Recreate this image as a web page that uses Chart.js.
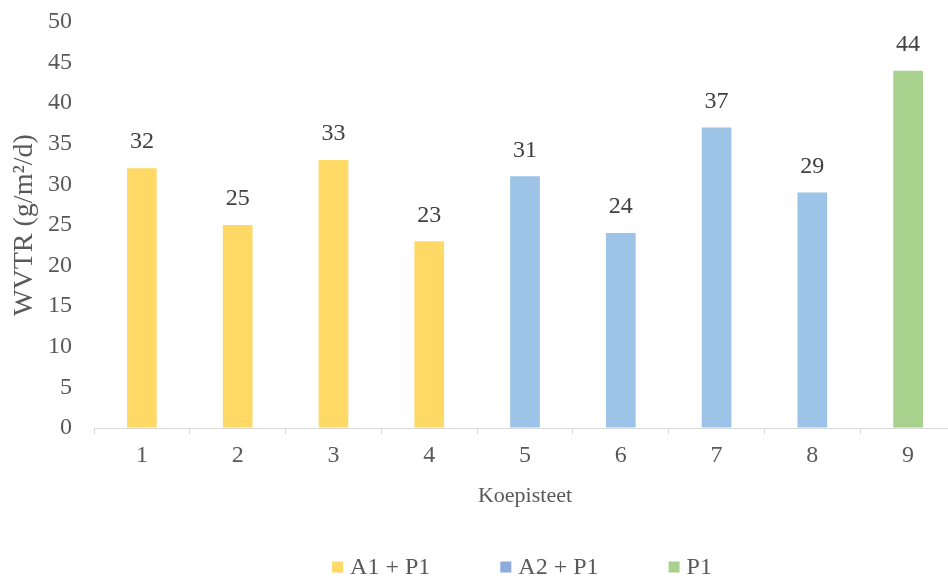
<!DOCTYPE html>
<html>
<head>
<meta charset="utf-8">
<script src="https://cdn.jsdelivr.net/npm/chart.js@4"></script>
<style>
  body { margin: 0; overflow: hidden; background: #fff; }
  #wrap { width: 960px; height: 578px; }
</style>
</head>
<body>
<div id="wrap"><canvas id="chart"></canvas></div>
<script>
'use strict';

// data
var categories = ['1', '2', '3', '4', '5', '6', '7', '8', '9'];
var values = [32, 25, 33, 23, 31, 24, 37, 29, 44];
var groups = [0, 0, 0, 0, 1, 1, 1, 1, 2];

// legend entries
var groupNames = ['A1 + P1', 'A2 + P1', 'P1'];
var barColors = ['#FFD966', '#9DC3E6', '#A9D18E'];
var legendColors = ['#FFD966', '#8FAADC', '#A9D18E'];

var yTitle = 'WVTR (g/m\u00B2/d)';
var xTitle = 'Koepisteet';

var fontFamily = '"Liberation Serif", "Times New Roman", serif';

var colors = [];
for (var i = 0; i < values.length; i++) {
  colors.push(barColors[groups[i]]);
}

// value labels above each bar
var valueLabels = {
  id: 'valueLabels',
  afterDatasetsDraw: function(chart) {
    var ctx = chart.ctx;
    var meta = chart.getDatasetMeta(0);
    ctx.save();
    ctx.font = '24px ' + fontFamily;
    ctx.fillStyle = '#404040';
    ctx.textAlign = 'center';
    ctx.textBaseline = 'middle';
    meta.data.forEach(function(bar, i) {
      ctx.fillText(String(values[i]), bar.x, bar.y - 26);
    });
    ctx.restore();
  }
};

// legend drawn at the bottom, spaced like the original
var bottomLegend = {
  id: 'bottomLegend',
  afterDraw: function(chart) {
    var ctx = chart.ctx;
    var area = chart.chartArea;
    var box = 11, textGap = 7, itemGap = 70;
    ctx.save();
    ctx.font = '24px ' + fontFamily;
    var widths = groupNames.map(function(n) { return box + textGap + ctx.measureText(n).width; });
    var total = widths.reduce(function(a, b) { return a + b; }, 0) + itemGap * (groupNames.length - 1);
    var x = (area.left + area.right) / 2 - 3 - total / 2;
    var y = 567;
    ctx.textBaseline = 'middle';
    ctx.textAlign = 'left';
    groupNames.forEach(function(n, i) {
      ctx.fillStyle = legendColors[i];
      ctx.fillRect(x, y - box / 2, box, box);
      ctx.fillStyle = '#595959';
      ctx.fillText(n, x + box + textGap, y + 1);
      x += widths[i] + itemGap;
    });
    ctx.restore();
  }
};

var ctx = document.getElementById('chart').getContext('2d');
new Chart(ctx, {
  type: 'bar',
  data: {
    labels: categories,
    datasets: [{
      data: values,
      backgroundColor: colors,
      borderWidth: 0,
      barPercentage: 0.62,
      categoryPercentage: 0.5
    }]
  },
  options: {
    responsive: true,
    maintainAspectRatio: false,
    animation: false,
    layout: { padding: { top: 22, right: 4, bottom: 60, left: 0 } },
    plugins: {
      legend: { display: false },
      tooltip: { enabled: false }
    },
    scales: {
      x: {
        grid: {
          display: true,
          drawOnChartArea: false,
          drawTicks: true,
          tickLength: 6,
          offset: true,
          color: '#D9D9D9'
        },
        border: { display: true, color: '#D9D9D9', width: 1 },
        ticks: {
          color: '#595959',
          padding: 7,
          font: { family: fontFamily, size: 24 }
        },
        title: {
          display: true,
          text: xTitle,
          color: '#595959',
          padding: { top: 0, bottom: 9 },
          font: { family: fontFamily, size: 22 }
        },
        afterFit: function(scale) { scale.height = 90; }
      },
      y: {
        min: 0,
        max: 50,
        // invisible tick marks keep the labels away from the plot
        grid: {
          display: true,
          drawOnChartArea: false,
          drawTicks: true,
          tickLength: 20,
          color: 'rgba(0,0,0,0)'
        },
        border: { display: false },
        ticks: {
          stepSize: 5,
          color: '#595959',
          padding: 2,
          font: { family: fontFamily, size: 24 }
        },
        title: {
          display: true,
          text: yTitle,
          color: '#595959',
          padding: { top: 8, bottom: 0 },
          font: { family: fontFamily, size: 28 }
        },
        afterFit: function(scale) { scale.width = 94; }
      }
    }
  },
  plugins: [valueLabels, bottomLegend]
});
</script>
</body>
</html>
